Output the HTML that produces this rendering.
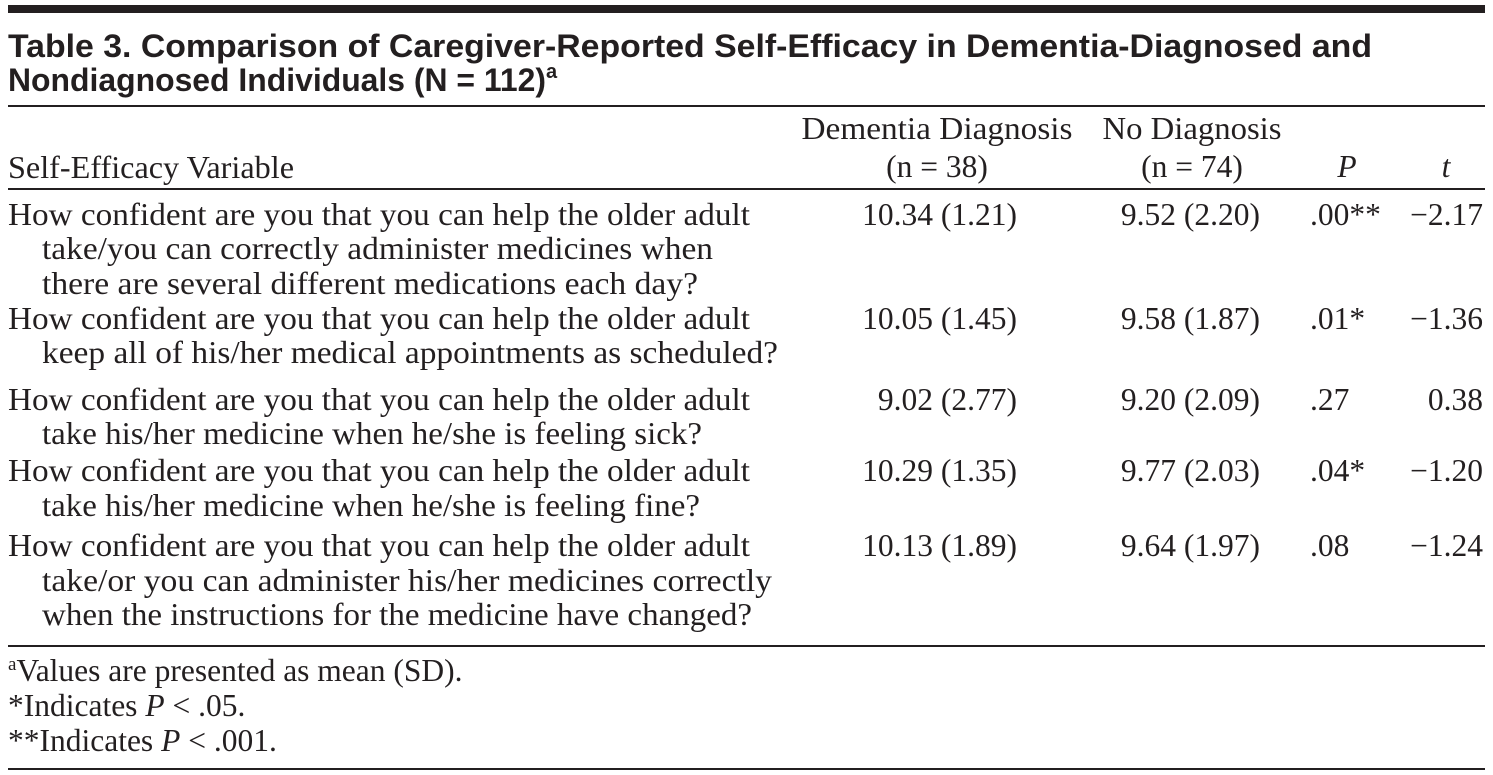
<!DOCTYPE html>
<html><head><meta charset="utf-8"><style>
html,body{margin:0;padding:0;background:#fff;width:1493px;height:775px;overflow:hidden}
svg{display:block}
.t{font-family:"Liberation Sans",sans-serif;font-weight:bold;font-size:32px;fill:#231f20}
.s{font-family:"Liberation Serif",serif;font-size:31.5px;fill:#231f20}
</style></head><body>
<svg width="1493" height="775">
<rect x="8" y="5" width="1477" height="8" fill="#231f20"/>
<text class="t" x="8" y="57" textLength="1364" lengthAdjust="spacingAndGlyphs">Table 3. Comparison of Caregiver-Reported Self-Efficacy in Dementia-Diagnosed and</text>
<text class="t" x="8" y="91"><tspan textLength="538" lengthAdjust="spacingAndGlyphs">Nondiagnosed Individuals (N = 112)</tspan><tspan font-size="20" dy="-13">a</tspan></text>
<rect x="8" y="105" width="1477" height="2" fill="#231f20"/>

<g>
<text class="s" x="8" y="178" textLength="286" lengthAdjust="spacingAndGlyphs">Self-Efficacy Variable</text>
<text class="s" x="937" y="139" text-anchor="middle" textLength="271" lengthAdjust="spacingAndGlyphs">Dementia Diagnosis</text>
<text class="s" x="937" y="177" text-anchor="middle">(n = 38)</text>
<text class="s" x="1192" y="139" text-anchor="middle" textLength="179" lengthAdjust="spacingAndGlyphs">No Diagnosis</text>
<text class="s" x="1192" y="177" text-anchor="middle">(n = 74)</text>
<text class="s" x="1347" y="177" text-anchor="middle" font-style="italic">P</text>
<text class="s" x="1446" y="177" text-anchor="middle" font-style="italic">t</text>
</g>
<rect x="8" y="188" width="1477" height="2" fill="#231f20"/>

<g>
<text class="s" x="8" y="225" textLength="742" lengthAdjust="spacingAndGlyphs">How confident are you that you can help the older adult</text>
<text class="s" x="42" y="259" textLength="671" lengthAdjust="spacingAndGlyphs">take/you can correctly administer medicines when</text>
<text class="s" x="42" y="294" textLength="656" lengthAdjust="spacingAndGlyphs">there are several different medications each day?</text>
<text class="s" x="1017" y="225" text-anchor="end">10.34 (1.21)</text>
<text class="s" x="1260" y="225" text-anchor="end">9.52 (2.20)</text>
<text class="s" x="1310" y="225">.00**</text>
<text class="s" x="1483" y="225" text-anchor="end">−2.17</text>
</g>
<g>
<text class="s" x="8" y="329" textLength="742" lengthAdjust="spacingAndGlyphs">How confident are you that you can help the older adult</text>
<text class="s" x="42" y="363" textLength="736" lengthAdjust="spacingAndGlyphs">keep all of his/her medical appointments as scheduled?</text>
<text class="s" x="1017" y="329" text-anchor="end">10.05 (1.45)</text>
<text class="s" x="1260" y="329" text-anchor="end">9.58 (1.87)</text>
<text class="s" x="1310" y="329">.01*</text>
<text class="s" x="1483" y="329" text-anchor="end">−1.36</text>
</g>
<g>
<text class="s" x="8" y="410" textLength="742" lengthAdjust="spacingAndGlyphs">How confident are you that you can help the older adult</text>
<text class="s" x="42" y="444" textLength="660" lengthAdjust="spacingAndGlyphs">take his/her medicine when he/she is feeling sick?</text>
<text class="s" x="1017" y="410" text-anchor="end">9.02 (2.77)</text>
<text class="s" x="1260" y="410" text-anchor="end">9.20 (2.09)</text>
<text class="s" x="1310" y="410">.27</text>
<text class="s" x="1483" y="410" text-anchor="end">0.38</text>
</g>
<g>
<text class="s" x="8" y="481" textLength="742" lengthAdjust="spacingAndGlyphs">How confident are you that you can help the older adult</text>
<text class="s" x="42" y="516" textLength="658" lengthAdjust="spacingAndGlyphs">take his/her medicine when he/she is feeling fine?</text>
<text class="s" x="1017" y="481" text-anchor="end">10.29 (1.35)</text>
<text class="s" x="1260" y="481" text-anchor="end">9.77 (2.03)</text>
<text class="s" x="1310" y="481">.04*</text>
<text class="s" x="1483" y="481" text-anchor="end">−1.20</text>
</g>
<g>
<text class="s" x="8" y="556" textLength="742" lengthAdjust="spacingAndGlyphs">How confident are you that you can help the older adult</text>
<text class="s" x="42" y="591" textLength="730" lengthAdjust="spacingAndGlyphs">take/or you can administer his/her medicines correctly</text>
<text class="s" x="42" y="625" textLength="710" lengthAdjust="spacingAndGlyphs">when the instructions for the medicine have changed?</text>
<text class="s" x="1017" y="556" text-anchor="end">10.13 (1.89)</text>
<text class="s" x="1260" y="556" text-anchor="end">9.64 (1.97)</text>
<text class="s" x="1310" y="556">.08</text>
<text class="s" x="1483" y="556" text-anchor="end">−1.24</text>
</g>
<rect x="8" y="645" width="1477" height="2" fill="#231f20"/>

<text class="s" x="8" y="681"><tspan font-size="19" dy="-11">a</tspan><tspan dy="11">Values are presented as mean (SD).</tspan></text>
<text class="s" x="8" y="716">*Indicates <tspan font-style="italic">P</tspan> &lt; .05.</text>
<text class="s" x="8" y="751">**Indicates <tspan font-style="italic">P</tspan> &lt; .001.</text>
<rect x="8" y="768" width="1477" height="2" fill="#231f20"/>
</svg>
</body></html>
